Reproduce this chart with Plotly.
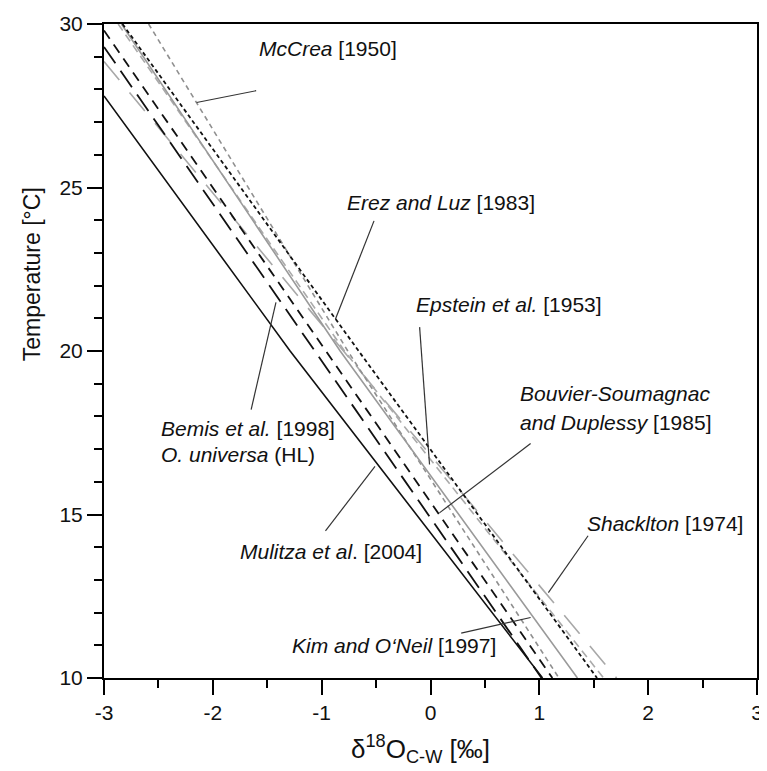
import plotly.graph_objects as go

# ---- data (delta18O c-w [permil], temperature [degC]) ----
mulitza_d = [-3.0, -1.29, 1.03]
mulitza_t = [27.8, 20.0, 10.0]

bemis_d = [-3.0, -1.06, 1.02]
bemis_t = [29.3, 20.0, 10.0]

bouvier_d = [-3.0, -0.96, 1.12]
bouvier_t = [29.8, 20.0, 10.0]

kim_d = [-2.84, -0.83, 1.35]
kim_t = [30.0, 20.0, 10.0]

mccrea_d = [-2.59, -0.76, 1.18]
mccrea_t = [30.0, 20.0, 10.0]

erez_d = [-2.83, -0.66, 1.53]
erez_t = [30.0, 20.0, 10.0]

epstein_d = [-2.87, -0.79, 1.59]
epstein_t = [30.0, 20.0, 10.0]

shack_d = [-3.0, -0.6, 1.71]
shack_t = [28.85, 19.2, 10.0]

x_ticks = [-3, -2, -1, 0, 1, 2, 3]
y_ticks = [10, 15, 20, 25, 30]

FONT = "Liberation Sans, Arial, sans-serif"

fig = go.Figure()

def add(d, t, color, width, dash, name):
    fig.add_trace(go.Scatter(x=d, y=t, mode="lines", name=name,
                             line=dict(color=color, width=width, dash=dash),
                             showlegend=False, hoverinfo="skip"))

add(shack_d, shack_t, "#a8a8a8", 1.6, "24px,16px", "Shackleton")
add(epstein_d, epstein_t, "#aaaaaa", 1.6, "8px,5px", "Epstein")
add(mccrea_d, mccrea_t, "#8f8f8f", 1.6, "5px,4px", "McCrea")
add(kim_d, kim_t, "#9a9a9a", 1.6, "solid", "Kim")
add(erez_d, erez_t, "#111111", 1.8, "4px,3px", "Erez")
add(bouvier_d, bouvier_t, "#111111", 1.8, "10px,7px", "Bouvier")
add(bemis_d, bemis_t, "#111111", 1.8, "20px,9px", "Bemis")
add(mulitza_d, mulitza_t, "#111111", 1.6, "solid", "Mulitza")

# ---- leader lines (data coords) ----
leaders = [
    (-1.602, 27.96, -2.149, 27.60),
    (-0.519, 23.98, -0.874, 20.97),
    (-0.100, 20.73, -0.009, 16.53),
    (0.920, 17.17, 0.082, 15.05),
    (1.448, 14.35, 1.083, 12.61),
    (-1.648, 18.21, -1.420, 21.49),
    (-0.965, 14.50, -0.510, 16.47),
    (0.282, 11.37, 0.920, 11.85),
]
for x0, y0, x1, y1 in leaders:
    fig.add_shape(type="line", x0=x0, y0=y0, x1=x1, y1=y1, xref="x", yref="y",
                  line=dict(color="#333333", width=1.2))

labels = [
    (-1.593, 29.24, "<i>McCrea</i> [1950]"),
    (-0.783, 24.53, "<i>Erez and Luz</i> [1983]"),
    (-0.155, 21.43, "<i>Epstein et al.</i> [1953]"),
    (0.801, 18.69, "<i>Bouvier-Soumagnac</i>"),
    (0.801, 17.80, "<i>and Duplessy</i> [1985]"),
    (1.420, 14.71, "<i>Shacklton</i> [1974]"),
    (-2.495, 17.62, "<i>Bemis et al.</i> [1998]"),
    (-2.495, 16.83, "<i>O. universa</i> (HL)"),
    (-1.766, 13.86, "<i>Mulitza et al</i>. [2004]"),
    (-1.293, 11.00, "<i>Kim and O‘Neil</i> [1997]"),
]
for x, y, txt in labels:
    fig.add_annotation(x=x, y=y, text=txt, showarrow=False, xanchor="left",
                       yanchor="middle", font=dict(size=21, color="#111111", family=FONT))

# axis titles placed as in the reference
fig.add_annotation(xref="paper", yref="paper", x=0.484, y=-0.109,
                   text="δ<sup>18</sup>O<sub>C-W</sub> [‰]", showarrow=False,
                   xanchor="center", yanchor="middle",
                   font=dict(size=26, family=FONT, color="#111111"))
fig.add_annotation(xref="paper", yref="paper", x=-0.109, y=0.617,
                   text="Temperature [°C]", showarrow=False, textangle=-90,
                   xanchor="center", yanchor="middle",
                   font=dict(size=23, family=FONT, color="#111111"))

axis_common = dict(showline=True, linecolor="black", linewidth=2, mirror=True,
                   showgrid=False, zeroline=False, ticks="outside",
                   tickcolor="black", tickwidth=1.5, ticklen=15,
                   tickfont=dict(size=21, family=FONT, color="#111111"))

fig.update_xaxes(range=[-3, 3], tickvals=x_ticks, ticktext=[str(v) for v in x_ticks],
                 minor=dict(dtick=0.5, ticklen=8, ticks="outside", tickcolor="black", tickwidth=1.5),
                 **axis_common)
fig.update_yaxes(range=[10, 30], tickvals=y_ticks, ticktext=[str(v) for v in y_ticks],
                 minor=dict(dtick=1, ticklen=8, ticks="outside", tickcolor="black", tickwidth=1.5),
                 **axis_common)

fig.update_layout(width=759, height=763, margin=dict(l=96, r=4, t=12, b=93),
                  plot_bgcolor="white", paper_bgcolor="white")

fig.write_html("out.html")
